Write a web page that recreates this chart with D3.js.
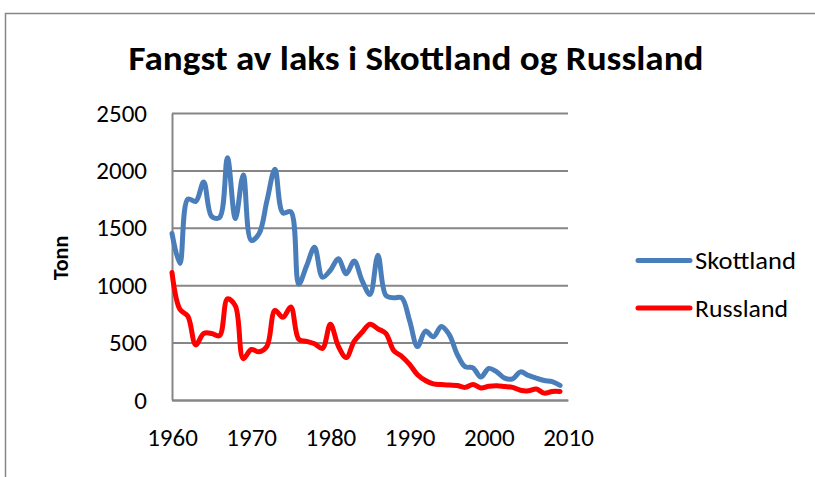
<!DOCTYPE html>
<html>
<head>
<meta charset="utf-8">
<script src="https://cdn.jsdelivr.net/npm/d3@7"></script>
<style>
  body { margin: 0; background: #fff; }
  text { font-family: Carlito, Calibri, Lato, sans-serif; fill: #000; }
</style>
</head>
<body>
<script>
var canvasWidth = 815;
var canvasHeight = 477;
var margin = { top: 113, right: 247, bottom: 77, left: 172 };

// data (tonn per year)
var years = d3.range(1960, 2010);
var skottland = [1450, 1190, 1750, 1730, 1900, 1600, 1590, 2110, 1580, 1960,
                 1390, 1450, 1740, 2010, 1630, 1640, 1010, 1170, 1330, 1070,
                 1130, 1230, 1100, 1210, 1040, 920, 1260, 912, 890, 890,
                 690, 465, 600, 550, 640, 570, 400, 290, 280, 200,
                 275, 245, 190, 185, 245, 214, 190, 170, 160, 127];
var russland = [1110, 790, 730, 480, 580, 580, 560, 880, 820, 360,
                440, 420, 470, 780, 720, 810, 530, 510, 490, 450,
                660, 470, 370, 510, 590, 660, 620, 580, 430, 380,
                310, 220, 170, 140, 135, 130, 127, 110, 135, 105,
                120, 125, 118, 110, 85, 80, 95, 60, 75, 75];
var seriesNames = ["Skottland", "Russland"];
var seriesColors = ["#4a7ebb", "#ff0000"];
var yTicks = [0, 500, 1000, 1500, 2000, 2500];
var xTicks = [1960, 1970, 1980, 1990, 2000, 2010];

var svg = d3.select("body").append("svg")
    .attr("width", canvasWidth)
    .attr("height", canvasHeight);

var width = canvasWidth - margin.left - margin.right;
var height = canvasHeight - margin.top - margin.bottom;

// chart frame
svg.append("path")
    .attr("d", "M5.5,480 V13.5 H820")
    .attr("fill", "none")
    .attr("stroke", "#868686")
    .attr("stroke-width", 1.5);

svg.append("text")
    .attr("x", 416)
    .attr("y", 70)
    .attr("text-anchor", "middle")
    .attr("font-size", "35px")
    .attr("font-weight", "bold")
    .attr("textLength", 575)
    .attr("lengthAdjust", "spacingAndGlyphs")
    .text("Fangst av laks i Skottland og Russland");

var xScale = d3.scaleLinear().domain([1960, 2010]).range([0, width]);
var yScale = d3.scaleLinear().domain([0, 2500]).range([height, 0]);

var g = svg.append("g")
    .attr("transform", "translate(" + margin.left + ", " + margin.top + ")");

// gridlines
g.append("g")
    .call(d3.axisLeft(yScale).tickValues(yTicks).tickSize(-width).tickFormat(""))
    .call(a => a.select(".domain").remove())
    .selectAll("line")
    .attr("stroke", "#868686")
    .attr("stroke-width", 2);

// y axis
var yAxis = g.append("g")
    .call(d3.axisLeft(yScale).tickValues(yTicks).tickSize(0).tickPadding(25).tickFormat(d3.format("d")));
yAxis.select(".domain").attr("stroke", "#868686").attr("stroke-width", 2);
yAxis.selectAll("text")
    .attr("font-size", "25px")
    .attr("font-family", "Carlito, Calibri, Lato, sans-serif");

// x axis
var xAxis = g.append("g")
    .attr("transform", "translate(0, " + height + ")")
    .call(d3.axisBottom(xScale).tickValues(xTicks).tickSize(0).tickPadding(28).tickFormat(d3.format("d")));
xAxis.select(".domain").attr("stroke", "#868686").attr("stroke-width", 2);
xAxis.selectAll("text")
    .attr("font-size", "25px")
    .attr("font-family", "Carlito, Calibri, Lato, sans-serif");

svg.append("text")
    .attr("transform", "translate(68, 258) rotate(-90)")
    .attr("text-anchor", "middle")
    .attr("font-size", "22px")
    .attr("font-weight", "bold")
    .text("Tonn");

var line = d3.line()
    .x((d, i) => xScale(years[i]))
    .y(d => yScale(d))
    .curve(d3.curveCatmullRom.alpha(0.5));

[skottland, russland].forEach(function(s, i) {
    g.append("path")
        .datum(s)
        .attr("d", line)
        .attr("fill", "none")
        .attr("stroke", seriesColors[i])
        .attr("stroke-width", 5)
        .attr("stroke-linejoin", "round")
        .attr("stroke-linecap", "round");
});

// legend
var legendWidths = [101, 93];
seriesNames.forEach(function(name, i) {
    var ly = 260.5 + i * 47.5;
    svg.append("line")
        .attr("x1", 638).attr("x2", 690)
        .attr("y1", ly).attr("y2", ly)
        .attr("stroke", seriesColors[i])
        .attr("stroke-width", 5)
        .attr("stroke-linecap", "round");
    svg.append("text")
        .attr("x", 695)
        .attr("y", ly + 8.5)
        .attr("font-size", "25px")
        .attr("textLength", legendWidths[i])
        .attr("lengthAdjust", "spacingAndGlyphs")
        .text(name);
});
</script>
</body>
</html>
